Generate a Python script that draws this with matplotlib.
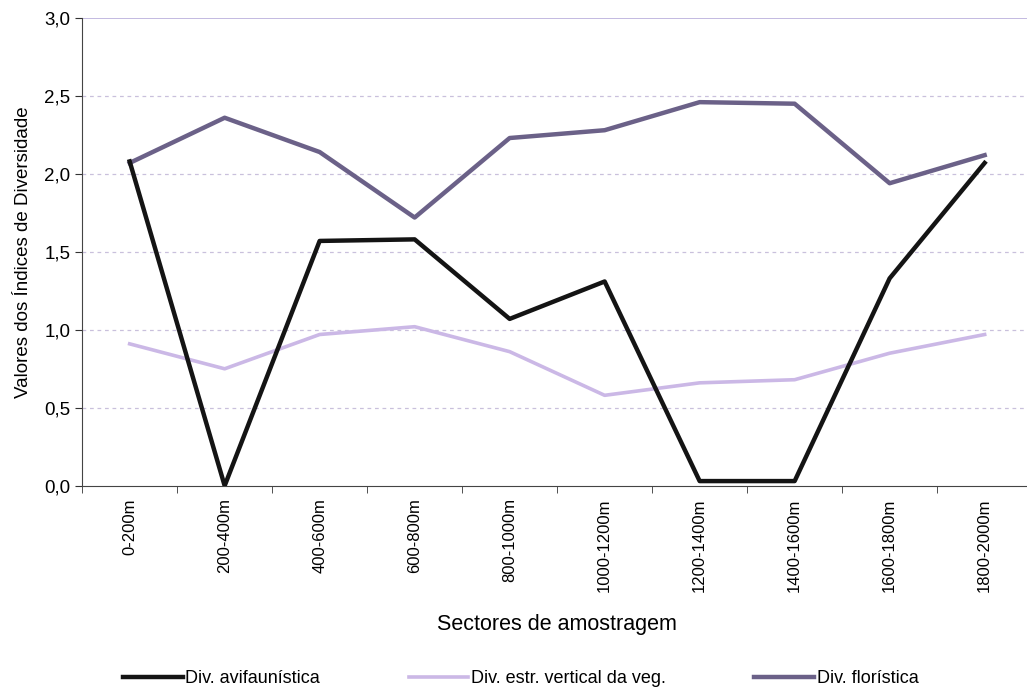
import matplotlib
matplotlib.use("Agg")
import matplotlib.pyplot as plt
import numpy as np

plt.rcParams['font.family'] = ['Liberation Sans', 'DejaVu Sans']

# Dados
sectores = ["0-200m", "200-400m", "400-600m", "600-800m", "800-1000m",
            "1000-1200m", "1200-1400m", "1400-1600m", "1600-1800m", "1800-2000m"]
div_avifaunistica = [2.08, 0.0, 1.57, 1.58, 1.07, 1.31, 0.03, 0.03, 1.33, 2.07]
div_estr_vertical = [0.91, 0.75, 0.97, 1.02, 0.86, 0.58, 0.66, 0.68, 0.85, 0.97]
div_floristica = [2.07, 2.36, 2.14, 1.72, 2.23, 2.28, 2.46, 2.45, 1.94, 2.12]

x = np.arange(len(sectores))

fig = plt.figure(figsize=(10.27, 6.9), dpi=100)
ax = fig.add_axes([0.080, 0.296, 0.925, 0.678])

# grelha
for v in [0.5, 1.0, 1.5, 2.0, 2.5]:
    ax.axhline(v, color='#c9c0dc', lw=0.9, ls=(0, (3, 3)), zorder=0)
ax.axhline(3.0, color='#b9aedb', lw=1.2, zorder=0)

ax.plot(x, div_avifaunistica, color='#141414', lw=3.2, label='Div. avifaunística', zorder=4)
ax.plot(x, div_estr_vertical, color='#cbb8e6', lw=2.6, label='Div. estr. vertical da veg.', zorder=2)
ax.plot(x, div_floristica, color='#6b6188', lw=3.2, label='Div. florística', zorder=3)

ax.set_xlim(-0.5, 9.5)
ax.set_ylim(0, 3.0)
ax.set_yticks([0, 0.5, 1.0, 1.5, 2.0, 2.5, 3.0])
ax.set_yticklabels(["0,0", "0,5", "1,0", "1,5", "2,0", "2,5", "3,0"], fontsize=13.5)

ax.set_xticks(x)
ax.set_xticklabels(sectores, rotation=90, fontsize=12)
ax.set_xticks(np.arange(-0.5, 10, 1), minor=True)
ax.tick_params(axis='x', which='major', length=0, pad=9)
ax.tick_params(axis='x', which='minor', length=5, color='#333333')
ax.tick_params(axis='y', length=5, color='#333333')

for s in ['top', 'right']:
    ax.spines[s].set_visible(False)
ax.spines['left'].set_color('#444444')
ax.spines['bottom'].set_color('#444444')

ax.set_ylabel("Valores dos Índices de Diversidade", fontsize=13.5)
ax.yaxis.set_label_coords(-0.053, 0.5)
ax.set_xlabel("Sectores de amostragem", fontsize=15.5, labelpad=16)

fig.legend(loc='center', bbox_to_anchor=(0.507, 0.016), ncol=3, frameon=False,
           fontsize=13, handlelength=3.3, handletextpad=0.15, columnspacing=4.9)

fig.savefig("out.png", dpi=100)
